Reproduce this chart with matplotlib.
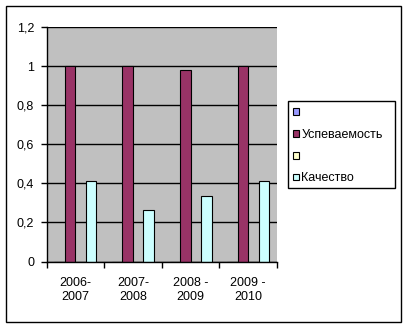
import numpy as np
import matplotlib

matplotlib.use("Agg")
import matplotlib.pyplot as plt
from matplotlib.patches import Rectangle
from matplotlib.ticker import MultipleLocator, FixedLocator, FuncFormatter

plt.rcParams['font.family'] = ['Liberation Sans', 'DejaVu Sans']

years = ["2006-\n2007", "2007-\n2008", "2008 -\n2009", "2009 -\n2010"]
blank_a = [0, 0, 0, 0]
uspevaemost = [1.0, 1.0, 0.98, 1.0]
blank_b = [0, 0, 0, 0]
kachestvo = [0.41, 0.265, 0.337, 0.41]

series = [
    ("", blank_a, "#9999FF"),
    ("Успеваемость", uspevaemost, "#993366"),
    ("", blank_b, "#FFFFCC"),
    ("Качество", kachestvo, "#CCFFFF"),
]

FS = 9
W, H = 408, 328
fig = plt.figure(figsize=(W / 100, H / 100), dpi=100)
fig.patch.set_facecolor("white")


def px_box(x0, y0, x1, y1):
    """Rectangle in figure fraction from pixel corners (origin top-left)."""
    return Rectangle((x0 / W, 1 - y1 / H), (x1 - x0) / W, (y1 - y0) / H,
                     transform=fig.transFigure, fill=False,
                     edgecolor="black", lw=1.0)


# outer chart border and legend box
fig.patches.append(px_box(5.5, 5.5, 401, 322))
fig.patches.append(px_box(287.5, 101.5, 395, 188))

ax = fig.add_axes([46.5 / W, 1 - 261.5 / H, (277 - 46.5) / W, (261.5 - 27.3) / H])
ax.set_facecolor("#C0C0C0")

# clustered layout: 4 bars per category, gap width 150%
n_ser = len(series)
bw = 1.0 / (n_ser + 1.5)
x = np.arange(len(years))
handles = []
for i, (label, vals, color) in enumerate(series):
    pos = x - 0.5 + 0.75 * bw + (i + 0.5) * bw
    ax.bar(pos, vals, width=bw, color=color, edgecolor="black", lw=0.8, zorder=3)
    handles.append(Rectangle((0, 0), 1, 1, facecolor=color, edgecolor="black",
                             lw=0.8))

ax.set_xlim(-0.5, len(years) - 0.5)
ax.set_ylim(0, 1.2)
ax.yaxis.set_major_locator(MultipleLocator(0.2))
ax.yaxis.set_major_formatter(FuncFormatter(
    lambda v, _: f"{v:.1f}".rstrip("0").rstrip(".").replace(".", ",")))
ax.grid(axis="y", color="black", lw=1.0, zorder=1)

ax.xaxis.set_major_locator(FixedLocator(x))
ax.set_xticklabels(years, linespacing=1.2)
ax.xaxis.set_minor_locator(FixedLocator(np.arange(-0.5, len(years), 1.0)))
ax.tick_params(axis="x", which="major", length=0, pad=11, labelsize=FS)
ax.tick_params(axis="x", which="minor", length=4, width=1.0, direction="out")
ax.tick_params(axis="y", length=4, width=1.0, pad=5, labelsize=FS)

for side in ("top", "right"):
    ax.spines[side].set_visible(False)
for side in ("left", "bottom"):
    ax.spines[side].set_linewidth(1.0)
    ax.spines[side].set_zorder(4)

leg = fig.legend(handles, [s[0] for s in series], loc="upper left",
                 bbox_to_anchor=(287.5 / W, 1 - 101.5 / H), fontsize=FS,
                 frameon=False,
                 handlelength=0.45, handleheight=0.45, handletextpad=0.2,
                 labelspacing=0.78, borderpad=0.45, borderaxespad=0)

fig.savefig("out.png", dpi=100)
